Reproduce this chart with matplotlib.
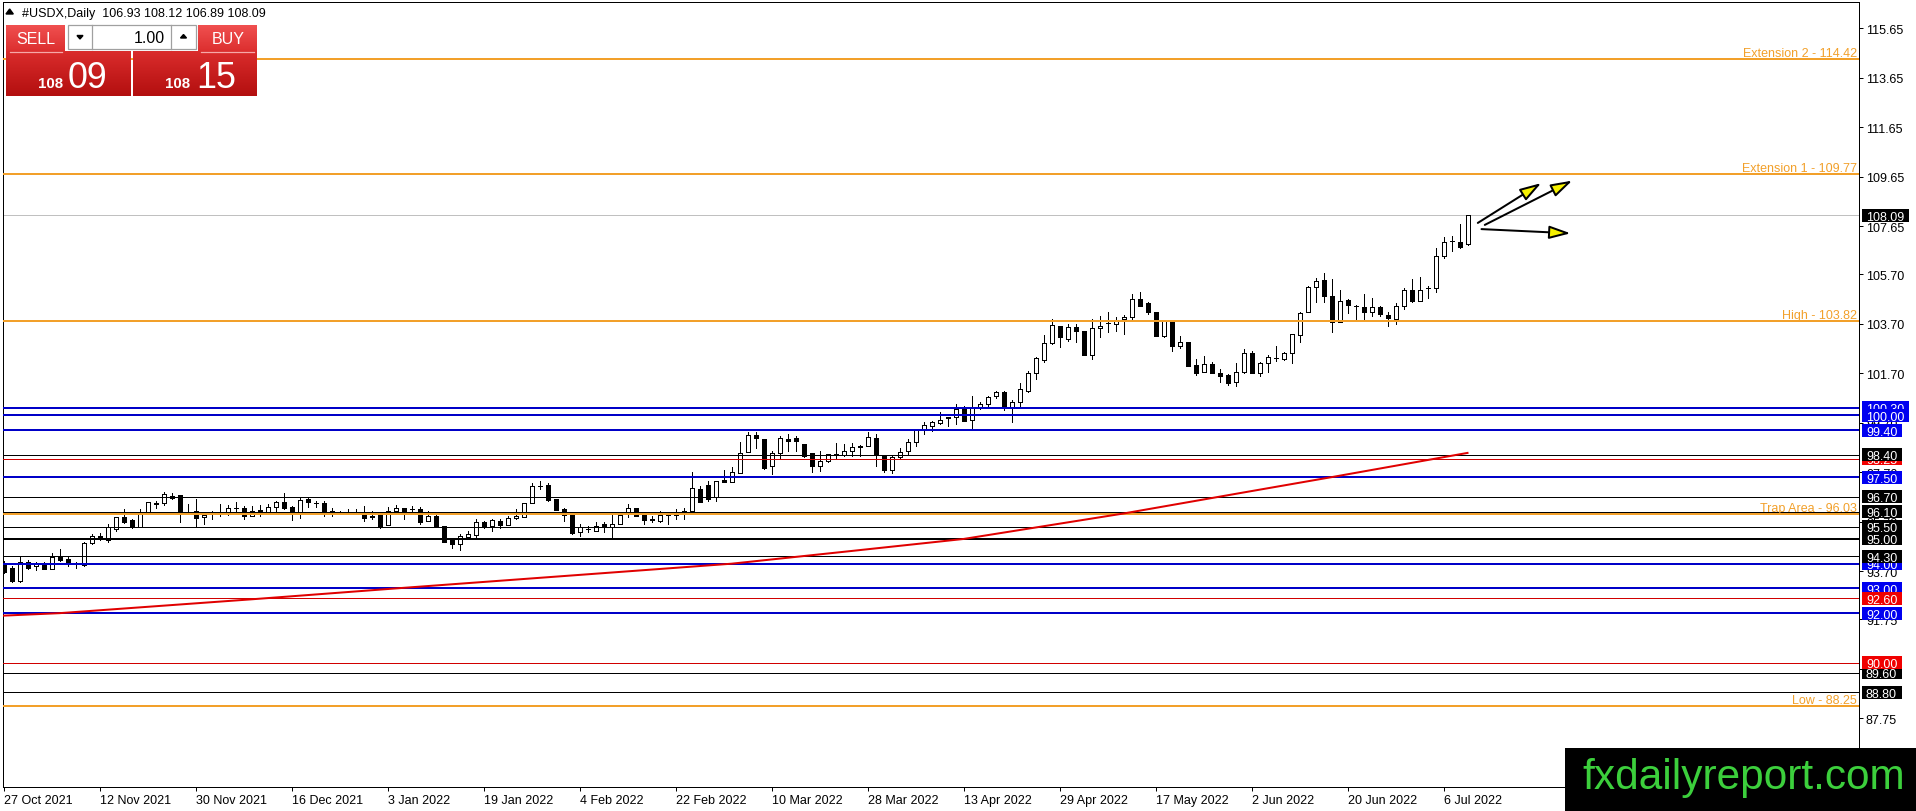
import numpy as np
import pandas as pd
import matplotlib
matplotlib.use("Agg")
import matplotlib.pyplot as plt
import matplotlib.transforms as mtransforms
from matplotlib.patches import Rectangle
from matplotlib.colors import to_rgb

# ---------------- data ----------------
symbol = "#USDX,Daily"
header_ohlc = [106.93, 108.12, 106.89, 108.09]
start_date = "2021-10-27"

opens = [94.00, 93.83, 93.31, 94.08, 93.90, 94.02, 93.79, 94.29, 94.19, 93.97,
         93.95, 94.84, 95.11, 94.96, 95.40, 95.87, 95.78, 95.47, 96.08, 96.42,
         96.44, 96.75, 96.78, 96.10, 96.14, 95.88, 96.10, 96.08, 96.10, 96.24,
         96.24, 95.94, 96.16, 96.08, 96.31, 96.48, 96.28, 96.08, 96.62, 96.46,
         96.45, 96.10, 96.06, 96.10, 96.10, 96.10, 95.94, 95.97, 95.58, 96.15,
         96.24, 96.20, 96.21, 95.71, 95.92, 95.54, 95.00, 94.80, 95.07, 95.16,
         95.67, 95.54, 95.72, 95.58, 95.83, 95.90, 96.44, 97.16, 97.18, 96.62,
         96.21, 95.97, 95.27, 95.40, 95.34, 95.60, 95.47, 95.60, 96.05, 96.24,
         95.97, 95.80, 95.74, 95.97, 95.97, 96.00, 96.15, 97.02, 97.18, 96.68,
         97.38, 97.32, 97.67, 98.53, 99.20, 99.04, 97.94, 98.48, 99.06, 99.08,
         98.84, 98.48, 97.94, 98.17, 98.44, 98.41, 98.57, 98.73, 98.75, 99.07,
         98.34, 97.77, 98.30, 98.57, 98.93, 99.42, 99.58, 99.69, 99.94, 99.92,
         100.28, 99.82, 100.32, 100.46, 100.77, 100.93, 100.32, 100.55, 100.99, 101.70,
         102.25, 102.92, 103.60, 103.09, 103.56, 103.41, 102.44, 103.52, 103.72, 103.69,
         103.89, 103.96, 104.70, 104.54, 104.17, 103.22, 103.76, 102.82, 102.98, 102.03,
         101.74, 102.07, 101.71, 101.63, 101.33, 101.74, 102.52, 101.71, 102.12, 102.30,
         102.28, 102.52, 103.25, 104.17, 105.17, 105.47, 104.81, 103.76, 104.68, 104.42,
         104.37, 104.17, 104.37, 104.06, 103.89, 104.43, 105.08, 104.64, 105.13, 105.14,
         106.43, 107.06, 106.99, 106.93]
highs = [94.10, 93.90, 94.26, 94.16, 94.08, 94.06, 94.43, 94.60, 94.33, 94.08,
         94.86, 95.19, 95.24, 95.61, 95.87, 96.21, 95.80, 96.21, 96.48, 96.55,
         96.89, 96.86, 96.78, 96.41, 96.62, 96.00, 96.15, 96.41, 96.37, 96.51,
         96.32, 96.32, 96.36, 96.41, 96.55, 96.86, 96.35, 96.64, 96.64, 96.55,
         96.55, 96.24, 96.12, 96.21, 96.21, 96.35, 96.15, 96.00, 96.28, 96.37,
         96.26, 96.35, 96.30, 96.15, 95.95, 95.54, 95.00, 95.20, 95.34, 95.81,
         95.74, 95.81, 95.81, 95.94, 96.21, 96.44, 97.26, 97.36, 97.26, 96.62,
         96.26, 96.00, 95.60, 95.54, 95.67, 95.67, 95.97, 95.97, 96.41, 96.24,
         96.00, 95.94, 96.15, 96.00, 96.21, 96.24, 97.70, 97.16, 97.36, 97.36,
         97.80, 97.90, 98.91, 99.34, 99.31, 99.04, 98.57, 99.18, 99.24, 99.18,
         98.86, 98.48, 98.57, 98.44, 98.90, 98.84, 98.90, 98.80, 99.31, 99.24,
         98.37, 98.37, 98.66, 99.04, 99.42, 99.72, 99.78, 100.12, 99.95, 100.46,
         100.38, 100.77, 100.53, 100.80, 100.99, 100.99, 100.60, 101.31, 101.81, 102.35,
         103.25, 103.90, 103.60, 103.69, 103.69, 103.41, 103.90, 104.03, 104.17, 103.96,
         104.05, 104.90, 104.97, 104.57, 104.17, 103.87, 103.76, 103.20, 102.98, 102.28,
         102.38, 102.14, 101.87, 101.67, 102.12, 102.68, 102.61, 102.17, 102.44, 102.82,
         102.57, 103.29, 104.17, 105.22, 105.57, 105.75, 105.51, 105.08, 104.70, 104.46,
         104.90, 104.73, 104.43, 104.17, 104.54, 105.13, 105.51, 105.58, 105.22, 106.75,
         107.20, 107.24, 107.74, 108.12]
lows = [93.62, 93.25, 93.28, 93.79, 93.76, 93.77, 93.78, 94.12, 93.92, 93.81,
        93.92, 94.80, 94.95, 94.89, 95.34, 95.65, 95.45, 95.47, 96.04, 96.24,
        96.37, 96.62, 95.70, 96.01, 95.47, 95.61, 95.81, 95.92, 95.97, 96.10,
        95.81, 95.91, 95.91, 96.05, 96.10, 96.21, 95.78, 95.84, 96.28, 96.28,
        95.94, 95.94, 96.00, 96.01, 96.01, 95.74, 95.81, 95.45, 95.58, 96.10,
        95.81, 96.08, 95.60, 95.71, 95.50, 94.86, 94.62, 94.57, 95.03, 95.03,
        95.43, 95.34, 95.43, 95.58, 95.81, 95.90, 96.44, 97.02, 96.55, 96.19,
        95.74, 95.20, 95.11, 95.30, 95.34, 95.30, 95.07, 95.60, 95.87, 95.92,
        95.60, 95.70, 95.67, 95.60, 95.81, 95.81, 96.15, 96.48, 96.55, 96.55,
        97.29, 97.32, 97.67, 98.53, 98.67, 97.83, 97.63, 98.23, 98.57, 98.57,
        98.30, 97.70, 97.76, 98.10, 98.23, 98.37, 98.37, 98.34, 98.75, 97.97,
        97.70, 97.67, 98.26, 98.44, 98.77, 99.25, 99.38, 99.65, 99.58, 99.65,
        99.78, 99.50, 100.26, 100.39, 100.69, 100.20, 99.74, 100.39, 100.93, 101.47,
        102.17, 102.88, 102.75, 103.02, 102.98, 102.42, 102.28, 103.15, 103.36, 103.42,
        103.29, 103.87, 104.41, 104.10, 103.20, 103.15, 102.62, 102.71, 101.99, 101.63,
        101.74, 101.71, 101.36, 101.23, 101.17, 101.71, 101.71, 101.58, 101.77, 102.21,
        102.24, 102.12, 102.98, 104.17, 104.57, 104.57, 103.35, 103.76, 104.14, 103.87,
        103.87, 104.00, 104.03, 103.63, 103.69, 104.30, 104.59, 104.64, 104.73, 105.00,
        106.35, 106.66, 106.75, 106.89]
closes = [93.66, 93.31, 94.08, 93.81, 94.02, 93.79, 94.29, 94.16, 94.03, 93.98,
          94.84, 95.11, 95.00, 95.47, 95.87, 95.70, 95.47, 96.01, 96.48, 96.45,
          96.82, 96.64, 96.08, 96.08, 95.84, 95.97, 96.10, 96.10, 96.24, 96.24,
          95.94, 96.15, 96.12, 96.28, 96.51, 96.24, 96.10, 96.59, 96.48, 96.45,
          96.10, 96.12, 96.05, 96.11, 96.09, 95.84, 95.88, 95.47, 96.15, 96.24,
          96.08, 96.22, 95.67, 95.92, 95.54, 94.89, 94.80, 95.11, 95.20, 95.67,
          95.51, 95.76, 95.58, 95.83, 95.94, 96.44, 97.16, 97.15, 96.59, 96.19,
          95.97, 95.24, 95.47, 95.41, 95.54, 95.51, 95.60, 95.97, 96.24, 95.92,
          95.78, 95.78, 95.97, 95.97, 96.00, 96.15, 97.05, 96.48, 96.62, 97.36,
          97.29, 97.70, 98.48, 99.20, 99.07, 97.86, 98.48, 99.07, 98.98, 98.98,
          98.34, 97.97, 98.17, 98.44, 98.45, 98.57, 98.73, 98.75, 99.11, 98.40,
          97.77, 98.30, 98.50, 98.93, 99.42, 99.61, 99.72, 99.83, 99.89, 100.26,
          99.78, 100.28, 100.46, 100.73, 100.93, 100.28, 100.55, 101.07, 101.70, 102.31,
          102.92, 103.65, 103.15, 103.56, 103.42, 102.44, 103.52, 103.63, 103.73, 103.87,
          103.98, 104.70, 104.41, 104.17, 103.22, 103.87, 102.82, 102.98, 102.01, 101.71,
          102.07, 101.71, 101.58, 101.30, 101.74, 102.52, 101.71, 102.12, 102.35, 102.31,
          102.52, 103.29, 104.14, 105.17, 105.43, 104.81, 103.76, 104.61, 104.46, 104.41,
          104.17, 104.37, 104.10, 103.92, 104.43, 105.08, 104.64, 105.08, 105.14, 106.46,
          107.02, 107.06, 106.79, 108.09]

# moving average (read at a few bars)
ma_index = [0, 7, 31, 49, 70, 91, 105, 120, 140, 155, 166, 183]
ma_values = [91.90, 92.00, 92.56, 93.00, 93.50, 94.00, 94.48, 95.00, 96.03, 96.88, 97.50, 98.48]

# horizontal levels
fib_levels = [114.42, 109.77, 103.82, 96.03, 88.25]
fib_names = ["Extension 2", "Extension 1", "High", "Trap Area", "Low"]
blue_levels = [100.30, 100.00, 99.40, 97.50, 94.00, 93.00, 92.00]
black_levels = [98.40, 96.70, 96.10, 95.50, 94.30, 89.60, 88.80]
black_thick_levels = [95.00]
red_levels = [98.25, 92.60, 90.00]
last_price = 108.09
# order in which the price boxes are stacked (first = bottom)
box_order = [100.30, 100.00, 99.40, 98.25, 98.40, 97.50, 96.70, 96.10, 95.00, 95.50,
             94.00, 94.30, 93.00, 92.60, 92.00, 89.60, 90.00, 88.80, 108.09]

y_ticks = [115.65, 113.65, 111.65, 109.65, 107.65, 105.70, 103.70, 101.70, 99.70,
           97.70, 95.70, 93.70, 91.75, 89.75, 87.75]

# arrows (bar index, price): start -> end
arrows = [(184.29, 107.78, 192.21, 109.39),
          (185.16, 107.70, 196.09, 109.49),
          (184.75, 107.53, 195.88, 107.36)]

bid_big, bid_small = "09", "108"
ask_big, ask_small = "15", "108"
lot = "1.00"

# ---------------- figure ----------------
W, H = 1916, 812
plt.rcParams["font.family"] = ["Liberation Sans", "DejaVu Sans"]
fig = plt.figure(figsize=(W / 100, H / 100), dpi=100)
fig.patch.set_facecolor("white")

L, R, T, B = 2.5, 1859.0, 3.0, 788.0
ax = fig.add_axes([L / W, 1 - B / H, (R - L) / W, (B - T) / H])
ax.set_facecolor("white")

px = 0.72  # one pixel in points
n = len(opens)
x = np.arange(n)
o = np.array(opens); h = np.array(highs); lo = np.array(lows); c = np.array(closes)

# x range: bar i at pixel 3.5 + 8 i
ax.set_xlim((L - 3.5) / 8.0, (R - 3.5) / 8.0)
ax.set_ylim(115.65 - (B - 29.3) / 24.73, 115.65 + (29.3 - T) / 24.73)

# candles
ax.vlines(x, lo, h, color="black", lw=px, zorder=3, antialiased=False)
up = c >= o
body_lo = np.minimum(o, c)
body_h = np.abs(c - o)
ax.bar(x[up], body_h[up], bottom=body_lo[up], width=0.5, facecolor="white",
       edgecolor="black", lw=px, zorder=4, antialiased=False)
ax.bar(x[~up], body_h[~up], bottom=body_lo[~up], width=0.5, facecolor="black",
       edgecolor="black", lw=px, zorder=4, antialiased=False)

# level lines
orange = "#f2a02a"
for v in fib_levels:
    ax.axhline(v, color=orange, lw=2 * px, zorder=5)
for v in blue_levels:
    ax.axhline(v, color="#0000c8", lw=2 * px, zorder=5)
for v in black_levels:
    ax.axhline(v, color="black", lw=px, zorder=5)
for v in black_thick_levels:
    ax.axhline(v, color="black", lw=2 * px, zorder=5)
for v in red_levels:
    ax.axhline(v, color="#d00000", lw=px, zorder=5)
ax.axhline(last_price, color="#c0c0c0", lw=px, zorder=2)

# moving average
ax.plot(ma_index, ma_values, color="#e00000", lw=2 * px, zorder=6)

# fib labels
ty = mtransforms.blended_transform_factory(ax.transAxes, ax.transData)
ty_off = mtransforms.offset_copy(ty, fig=fig, x=-2, y=2.5, units="dots")
for v, name in zip(fib_levels, fib_names):
    ax.text(1.0, v, f"{name} - {v:.2f}", transform=ty_off, ha="right", va="baseline",
            color=orange, fontsize=9, zorder=7)

# arrows
for (x0, y0, x1, y1) in arrows:
    ax.annotate("", xy=(x1, y1), xytext=(x0, y0),
                arrowprops=dict(arrowstyle="-|>,head_length=0.65,head_width=0.2",
                                mutation_scale=20, lw=2 * px, ec="black", fc="#f5f000",
                                shrinkA=0, shrinkB=0), zorder=8)

# axes styling
for s in ax.spines.values():
    s.set_linewidth(px)
    s.set_color("black")
ax.yaxis.tick_right()
ax.set_yticks(y_ticks)
ax.set_yticklabels([f"{t:.2f}" for t in y_ticks])
ax.tick_params(axis="y", which="both", direction="out", length=4 * px, width=px,
               pad=3 * px, labelsize=9, colors="black", left=False, right=True)

dates = pd.bdate_range(start_date, periods=n)
xt = list(range(0, n, 12))
ax.set_xticks(xt)
ax.set_xticklabels([f"{dates[i].day} {dates[i]:%b %Y}" for i in xt], ha="left")
ax.tick_params(axis="x", direction="out", length=4 * px, width=px, pad=3 * px,
               labelsize=9, colors="black")

# price boxes on right axis
renderer = fig.canvas.get_renderer()
axr = ax.transAxes.transform((1, 0))[0]
blue_set = set(blue_levels)
red_set = set(red_levels)
z = 20
for v in box_order:
    if v in blue_set:
        col = "#0000f0"
    elif v in red_set:
        col = "#f00000"
    else:
        col = "black"
    ypx = ax.transData.transform((0, v))[1]
    t = fig.text((axr + 7) / W, (ypx - 4.5) / H, f"{v:.2f}", color="white",
                 fontsize=9, ha="left", va="baseline", zorder=z + 1)
    bb = t.get_window_extent(renderer)
    fig.add_artist(Rectangle(((axr + 3) / W, (ypx - 6.5) / H),
                             (bb.x1 + 5 - axr - 3) / W, 13 / H,
                             transform=fig.transFigure, fc=col, ec="none", zorder=z))
    z += 2

# ---------------- one-click trading panel ----------------
pax = fig.add_axes([0, 1 - 110 / H, 270 / W, 110 / H], zorder=10)
pax.axis("off")
narrow = ["Liberation Sans Narrow", "Liberation Sans", "DejaVu Sans"]


def grad(x0, x1, y0, y1, ctop, cbot):
    ct = np.array(to_rgb(ctop)); cb = np.array(to_rgb(cbot))
    tt = np.linspace(0, 1, 64)[:, None, None]
    img = ct[None, None, :] * (1 - tt) + cb[None, None, :] * tt
    pax.imshow(img, extent=(x0, x1, y1, y0), aspect="auto", interpolation="bilinear", zorder=1)


grad(6, 65, 26, 52.5, "#f05050", "#dc2e2e")
grad(198, 257, 26, 52.5, "#f05050", "#dc2e2e")
grad(6, 131, 52.5, 97, "#da2c2c", "#b30f0f")
grad(133, 257, 52.5, 97, "#da2c2c", "#b30f0f")
pax.plot([10, 62], [52.5, 52.5], color="#f6a8a8", lw=0.9, zorder=3)
pax.plot([201, 254], [52.5, 52.5], color="#f6a8a8", lw=0.9, zorder=3)
# spinner
pax.add_patch(Rectangle((68, 26), 128, 24, fc="white", ec="#a0a0a0", lw=0.9, zorder=2))
grad(68.5, 92, 26.5, 49.5, "#f2f2f2", "#d6d6d6")
grad(171, 195.5, 26.5, 49.5, "#f2f2f2", "#d6d6d6")
pax.plot([92, 92], [26, 50], color="#a0a0a0", lw=0.9, zorder=3)
pax.plot([171, 171], [26, 50], color="#a0a0a0", lw=0.9, zorder=3)
pax.fill([77, 83, 80], [36.5, 36.5, 40], color="black", zorder=4)
pax.fill([180.5, 186.5, 183.5], [39, 39, 35.5], color="black", zorder=4)
pax.text(165, 38.5, lot, ha="right", va="center", fontsize=11.5, family=narrow, color="black", zorder=4)
pax.text(35.5, 39, "SELL", ha="center", va="center", fontsize=11.5, family=narrow, color="white", zorder=4)
pax.text(228, 39, "BUY", ha="center", va="center", fontsize=11.5, family=narrow, color="white", zorder=4)
pax.text(50.5, 87.5, bid_small, ha="center", va="baseline", fontsize=10.8, weight="bold", color="white", zorder=4)
pax.text(67.5, 87.5, bid_big, ha="left", va="baseline", fontsize=25.8, color="white", zorder=4)
pax.text(177.5, 87.5, ask_small, ha="center", va="baseline", fontsize=10.8, weight="bold", color="white", zorder=4)
pax.text(196.5, 87.5, ask_big, ha="left", va="baseline", fontsize=25.8, color="white", zorder=4)
# title
pax.fill([6, 13.3, 9.65], [15, 15, 10], color="black", zorder=4)
pax.text(22, 17.3, f"{symbol}  " + " ".join(f"{v:.2f}" for v in header_ohlc),
         ha="left", va="baseline", fontsize=9, color="black", zorder=4)
pax.set_xlim(0, 270)
pax.set_ylim(110, 0)

# ---------------- watermark ----------------
fig.add_artist(Rectangle((1565 / W, 0), (W - 1565) / W, (H - 749) / H,
                         transform=fig.transFigure, fc="black", ec="none", zorder=50))
fig.text(1582 / W, (H - 789) / H, "fxdailyreport.com", color="#3ccf3c", fontsize=30.5,
         ha="left", va="baseline", zorder=51)

fig.savefig("out.png", dpi=100)
